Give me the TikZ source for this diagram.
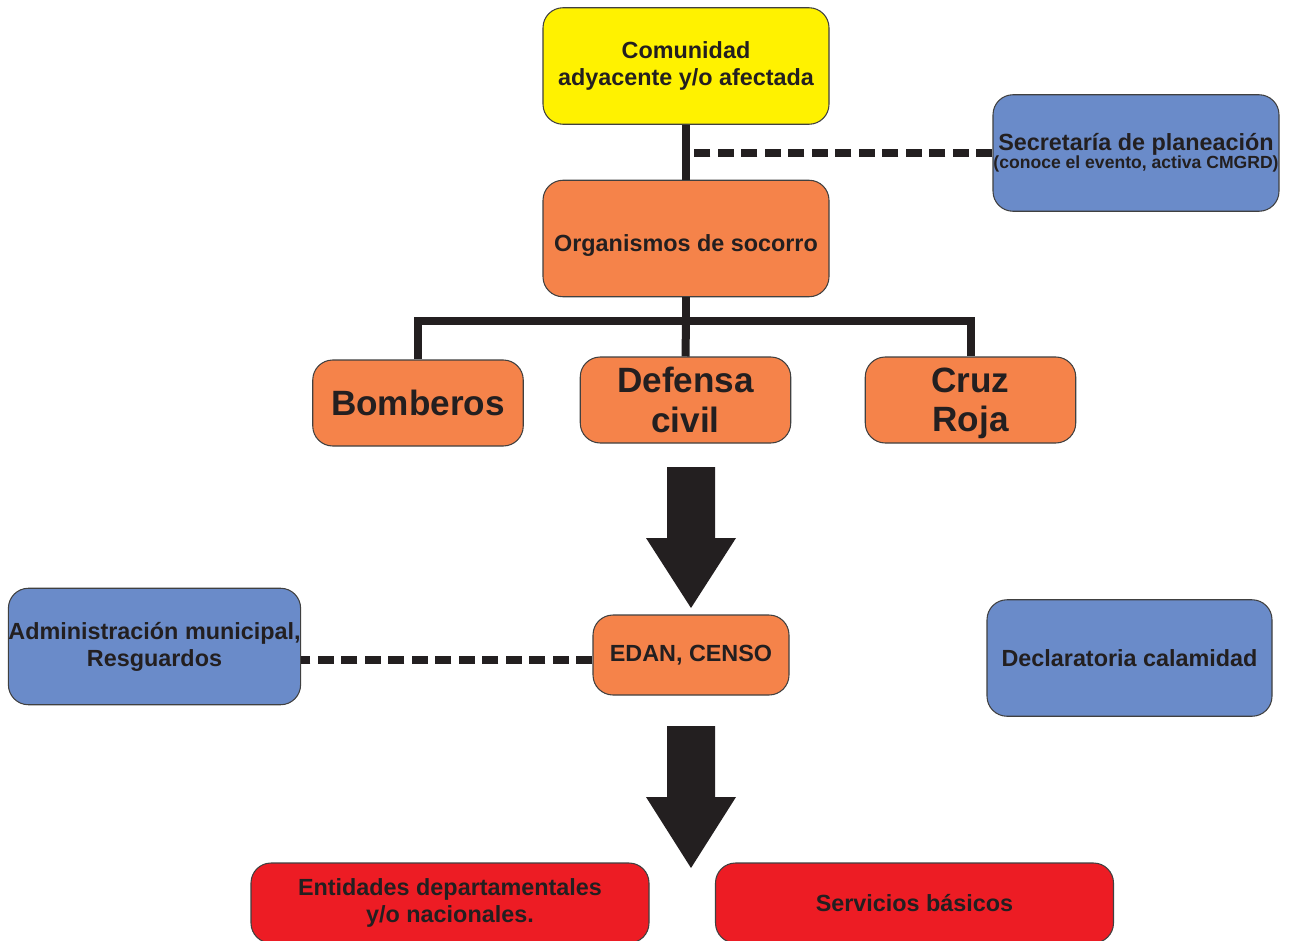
\documentclass[tikz,border=0pt]{standalone}
\usepackage{fontspec}
\setmainfont{Liberation Sans}
\definecolor{amarillo}{HTML}{FFF200}
\definecolor{naranja}{HTML}{F5834A}
\definecolor{azul}{HTML}{6A8BC9}
\definecolor{rojo}{HTML}{ED1C24}
\definecolor{tinta}{HTML}{231F20}
\begin{document}
\begin{tikzpicture}[
    caja/.style={draw=black!75, line width=0.6pt, rounded corners=0.4cm, align=center,
      text=tinta, inner sep=0pt, font=\fontsize{13.3}{15.4}\selectfont\bfseries},
    grande/.style={caja, minimum width=5.72cm, minimum height=2.33cm},
    media/.style={caja, minimum width=4.21cm, minimum height=1.72cm,
      font=\fontsize{20}{22.4}\selectfont\bfseries},
    baja/.style={caja, fill=rojo, minimum width=7.96cm, minimum height=1.6cm},
    linea/.style={tinta, line width=0.16cm},
    punteada/.style={tinta, line width=0.15cm, dash pattern=on 0.32cm off 0.15cm},
    flecha/.style={fill=tinta}
  ]
    \fill[white] (0,0) rectangle (25.8,-18.82);
    \useasboundingbox (0,0) rectangle (25.8,-18.82);

    % cajas
    \node[grande, fill=amarillo] (com) at (13.72,-1.32) {Comunidad\\adyacente y/o afectada};
    \node[grande, fill=azul] (sec) at (22.72,-3.06)
      {Secretaría de planeación\\[-5pt]{\fontsize{10}{12}\selectfont(conoce el evento, activa CMGRD)}};
    \node[grande, fill=naranja] (org) at (13.72,-4.77)
      {\raisebox{-0.14cm}[\height][\depth]{Organismos de socorro}};
    \node[media, fill=naranja] (bom) at (8.36,-8.06) {Bomberos};
    \node[media, fill=naranja] (def) at (13.71,-8.0) {Defensa\\civil};
    \node[media, fill=naranja] (cruz) at (19.41,-8.0) {Cruz\\Ro\smash{j}a};
    \node[caja, fill=naranja, minimum width=3.92cm, minimum height=1.6cm] (edan) at (13.82,-13.1) {EDAN, CENSO};
    \node[grande, fill=azul, minimum width=5.7cm] (adm) at (3.09,-12.93) {Administración municipal,\\Resguardos};
    \node[grande, fill=azul, minimum width=5.7cm] (decl) at (22.59,-13.16) {Declaratoria calamidad};
    \node[baja] (ent) at (9.0,-18.06) {Entidades departamentales\\y/o nacionales.};
    \node[baja] (serv) at (18.29,-18.06) {Servicios básicos};

    % uniones
    \draw[linea] (com.south) -- (org.north);
    \draw[punteada] (sec.west) -- (sec.west -| com.south);
    \draw[linea] (org.south) -- ++(0,-0.47) coordinate (rama);
    \draw[linea] (bom.north) |- (rama) -| (cruz.north);
    \draw[linea] (rama) -- (def.north);
    \coordinate (e) at ([yshift=-0.1cm]edan.west);
    \draw[punteada] (e) -- (adm.east |- e);

    % flechas grandes
    \fill[flecha] (13.34,-9.34) -- (14.30,-9.34) -- (14.30,-10.76) -- (14.72,-10.76)
      -- (13.82,-12.16) -- (12.92,-10.76) -- (13.34,-10.76) -- cycle;
    \fill[flecha] (13.34,-14.52) -- (14.30,-14.52) -- (14.30,-15.94) -- (14.72,-15.94)
      -- (13.82,-17.36) -- (12.92,-15.94) -- (13.34,-15.94) -- cycle;
  \end{tikzpicture}
\end{document}
